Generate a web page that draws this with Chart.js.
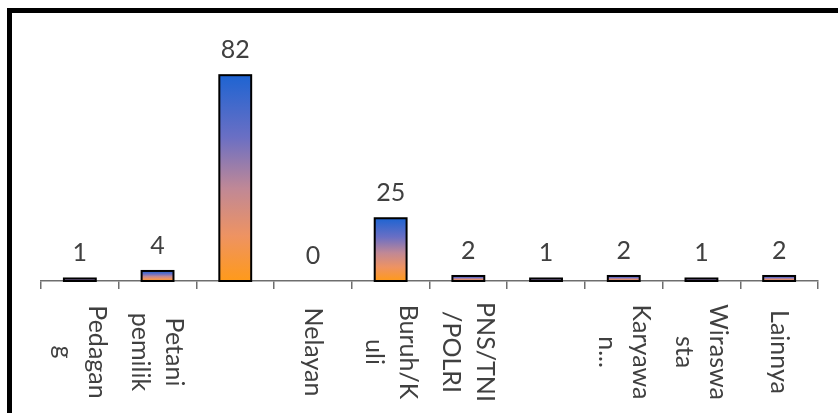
<!DOCTYPE html>
<html>
<head>
<meta charset="utf-8">
<script src="https://cdn.jsdelivr.net/npm/chart.js@4.4.0/dist/chart.umd.min.js"></script>
<style>
  html, body { margin: 0; padding: 0; background: #fff; }
  #wrap { position: relative; width: 838px; height: 413px; overflow: hidden; }
  #frame { position: absolute; left: 7px; top: 8px; width: 900px; height: 500px;
           border-left: 5px solid #000; border-top: 5px solid #000; box-sizing: border-box; }
  canvas { position: absolute; left: 0; top: 0; }
</style>
</head>
<body>
<div id="wrap">
  <div id="frame"></div>
  <canvas id="c" width="838" height="413"></canvas>
</div>
<script>
// ---- data ----
const categories = [
  ["Pedagan", "g"],
  ["Petani", "pemilik"],
  [""],
  ["Nelayan"],
  ["Buruh/K", "uli"],
  ["PNS/TNI", "/POLRI"],
  [""],
  ["Karyawa", "n..."],
  ["Wiraswa", "sta"],
  ["Lainnya"]
];
const values = [1, 4, 82, 0, 25, 2, 1, 2, 1, 2];
const yMin = 0;
const yMax = 100;

// ---- styling ----
const FONT = "Lato, 'Open Sans', sans-serif";
const TEXT_COLOR = "#404040";
const FONT_SIZE = 25;
const LINE_H = 34;

function barGradient(ctx) {
  const chart = ctx.chart;
  if (!chart.chartArea) return "#ff9a1a";
  const ys = chart.scales.y;
  const top = ys.getPixelForValue(ctx.raw);
  const bot = ys.getPixelForValue(0);
  if (!(bot - top > 0.5)) return "#ff9a1a";
  const g = chart.ctx.createLinearGradient(0, top, 0, bot);
  g.addColorStop(0.0, "#1e64d2");
  g.addColorStop(0.30, "#6a6fc4");
  g.addColorStop(0.55, "#c08896");
  g.addColorStop(0.78, "#ee9362");
  g.addColorStop(1.0, "#ff9a1a");
  return g;
}

// Excel-style outline: stroke centred on the bar edge
const barOutline = {
  id: "barOutline",
  afterDatasetsDraw(chart) {
    const ctx = chart.ctx;
    const meta = chart.getDatasetMeta(0);
    ctx.save();
    ctx.strokeStyle = "#000";
    ctx.lineWidth = 2;
    meta.data.forEach((bar, i) => {
      if (!(values[i] > 0)) return;
      const p = bar.getProps(["x", "y", "base", "width"], true);
      ctx.strokeRect(p.x - p.width / 2, p.y, p.width, p.base - p.y);
    });
    ctx.restore();
  }
};

const valueLabels = {
  id: "valueLabels",
  afterDatasetsDraw(chart) {
    const ctx = chart.ctx;
    const meta = chart.getDatasetMeta(0);
    ctx.save();
    ctx.font = FONT_SIZE + "px " + FONT;
    ctx.fillStyle = TEXT_COLOR;
    ctx.textAlign = "center";
    ctx.textBaseline = "alphabetic";
    meta.data.forEach((bar, i) => {
      ctx.fillText(String(values[i]), bar.x, bar.y - 17);
    });
    ctx.restore();
  }
};

const catLabels = {
  id: "catLabels",
  afterDraw(chart) {
    const ctx = chart.ctx;
    const xs = chart.scales.x;
    const yCenter = chart.chartArea.bottom + 71;
    ctx.save();
    ctx.font = FONT_SIZE + "px " + FONT;
    ctx.fillStyle = TEXT_COLOR;
    ctx.textAlign = "center";
    ctx.textBaseline = "middle";
    categories.forEach((lines, i) => {
      const x = xs.getPixelForValue(i);
      ctx.save();
      ctx.translate(x, yCenter);
      ctx.rotate(Math.PI / 2);
      const n = lines.length;
      lines.forEach((t, k) => {
        ctx.fillText(t, 0, (k - (n - 1) / 2) * LINE_H);
      });
      ctx.restore();
    });
    ctx.restore();
  }
};

new Chart(document.getElementById("c"), {
  type: "bar",
  data: {
    labels: categories.map(l => l.join(" ")),
    datasets: [{
      data: values,
      backgroundColor: barGradient,
      borderWidth: 0,
      barPercentage: 0.41,
      categoryPercentage: 1.0
    }]
  },
  options: {
    responsive: false,
    animation: false,
    events: [],
    layout: { padding: { left: 41, right: 20, top: 30, bottom: 0 } },
    plugins: { legend: { display: false }, tooltip: { enabled: false } },
    scales: {
      y: { display: false, min: yMin, max: yMax },
      x: {
        offset: true,
        grid: { display: true, offset: true, drawOnChartArea: false, drawTicks: true,
                tickLength: 8, color: "#6e6e6e", lineWidth: 1.5 },
        border: { display: true, color: "#6e6e6e", width: 1.5 },
        ticks: { display: false },
        afterFit(s) { s.height = 132; }
      }
    }
  },
  plugins: [barOutline, valueLabels, catLabels]
});
</script>
</body>
</html>
